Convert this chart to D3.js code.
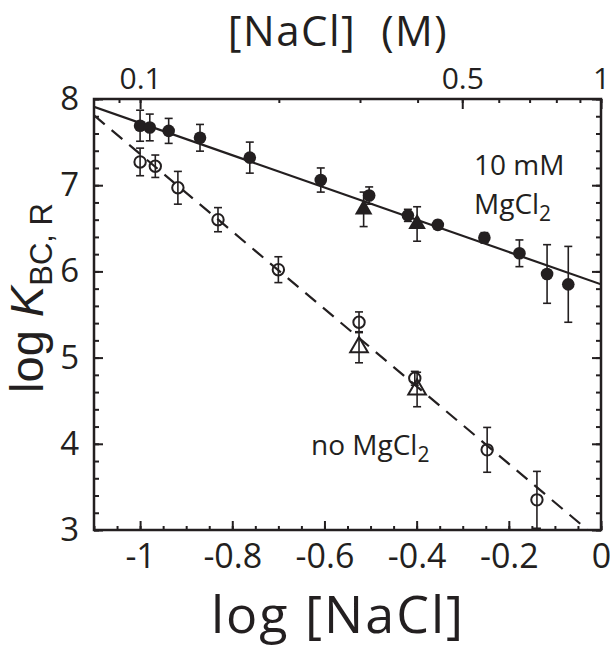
<!DOCTYPE html>
<html><head><meta charset="utf-8">
<script src="https://cdn.jsdelivr.net/npm/d3@7"></script>
<style>
body{margin:0;background:#fff}
text{font-family:"Open Sans",sans-serif;fill:#231f20}
</style>
</head><body>
<svg id="c" width="610" height="651"></svg>
<script>
// 10 mM MgCl2 (filled symbols)
const mgX   = [-1.0, -0.979, -0.938, -0.870, -0.762, -0.608, -0.503, -0.419, -0.354, -0.253, -0.177, -0.117, -0.071];
const mgY   = [7.69, 7.67, 7.63, 7.55, 7.32, 7.06, 6.88, 6.65, 6.54, 6.39, 6.21, 5.97, 5.85];
const mgErr = [0.18, 0.155, 0.145, 0.155, 0.18, 0.14, 0.10, 0.07, 0.05, 0.06, 0.155, 0.34, 0.44];
const mgTriX = [-0.515, -0.399];
const mgTriY = [6.72, 6.55];
const mgTriErr = [0.2, 0.2];
// no MgCl2 (open symbols)
const noX   = [-1.0, -0.967, -0.918, -0.831, -0.700, -0.525, -0.404, -0.247, -0.139];
const noY   = [7.27, 7.22, 6.97, 6.60, 6.02, 5.41, 4.76, 3.93, 3.35];
const noErr = [0.16, 0.13, 0.19, 0.14, 0.15, 0.12, 0.08, 0.26, 0.33];
const noTriX = [-0.525, -0.399];
const noTriY = [5.12, 4.63];
const noTriErr = [0.18, 0.2];
// fit lines
const fitX   = [-1.1, 0];
const mgFitY = [7.91, 5.85];
const noFitY = [7.81, 2.87];
// ticks
const xMajor = [-1, -0.8, -0.6, -0.4, -0.2, 0];
const xMinor = d3.range(-1.1, 0.001, 0.05).map(v => +v.toFixed(2));
const yMajor = [3, 4, 5, 6, 7, 8];
const yMinor = d3.range(3, 8.001, 0.2).map(v => +v.toFixed(1));
const topMajor = [0.1, 0.5, 1];
const topMinor = [0.09, 0.1, 0.2, 0.3, 0.4, 0.5, 0.6, 0.7, 0.8, 0.9, 1];
const topLabels = ["0.1", "0.5", "1"];

const ink = "#231f20";
const svg = d3.select("#c");
const L = 94, R = 601, T = 99, B = 530;
const x = d3.scaleLinear().domain([-1.1, 0]).range([L, R]);
const y = d3.scaleLinear().domain([3, 8]).range([B, T]);
const xTop = d3.scaleLog().domain([Math.pow(10, -1.1), 1]).range([L, R]);

svg.append("defs").append("clipPath").attr("id", "clip")
  .append("rect").attr("x", L).attr("y", T).attr("width", R - L).attr("height", B - T);

function styleAxis(g) {
  g.select(".domain").remove();
  g.selectAll("line").attr("stroke", ink).attr("stroke-width", 2);
  g.selectAll("text").attr("fill", ink);
}
// bottom
svg.append("g").attr("transform", `translate(0,${B})`)
  .call(d3.axisBottom(x).tickValues(xMinor).tickSize(-4).tickFormat(""))
  .call(styleAxis);
svg.append("g").attr("transform", `translate(0,${B})`)
  .call(d3.axisBottom(x).tickValues(xMajor).tickSize(-9).tickPadding(14)
    .tickFormat(d => String(+d.toFixed(1))))
  .call(styleAxis)
  .selectAll("text").style("font-size", "34px");
// left
svg.append("g").attr("transform", `translate(${L},0)`)
  .call(d3.axisLeft(y).tickValues(yMinor).tickSize(-5).tickFormat(""))
  .call(styleAxis);
svg.append("g").attr("transform", `translate(${L},0)`)
  .call(d3.axisLeft(y).tickValues(yMajor).tickSize(-9).tickPadding(15).tickFormat(d3.format("d")))
  .call(styleAxis)
  .selectAll("text").style("font-size", "33px");
// right
svg.append("g").attr("transform", `translate(${R},0)`)
  .call(d3.axisRight(y).tickValues(yMinor).tickSize(-5).tickFormat(""))
  .call(styleAxis);
svg.append("g").attr("transform", `translate(${R},0)`)
  .call(d3.axisRight(y).tickValues(yMajor).tickSize(-9).tickFormat(""))
  .call(styleAxis);
// top
svg.append("g").attr("transform", `translate(0,${T})`)
  .call(d3.axisTop(xTop).tickValues(topMinor).tickSize(-4).tickFormat(""))
  .call(styleAxis);
svg.append("g").attr("transform", `translate(0,${T})`)
  .call(d3.axisTop(xTop).tickValues(topMajor).tickSize(-10).tickPadding(10)
    .tickFormat((d, i) => topLabels[i]))
  .call(styleAxis)
  .selectAll("text").style("font-size", "30px");

// frame
svg.append("rect").attr("x", L).attr("y", T).attr("width", R - L).attr("height", B - T)
  .attr("fill", "none").attr("stroke", ink).attr("stroke-width", 2.5);

const plot = svg.append("g").attr("clip-path", "url(#clip)");
const line = d3.line().x(d => x(d[0])).y(d => y(d[1]));
plot.append("path").attr("d", line(d3.zip(fitX, mgFitY)))
  .attr("fill", "none").attr("stroke", ink).attr("stroke-width", 2.2);
plot.append("path").attr("d", line(d3.zip(fitX, noFitY)))
  .attr("fill", "none").attr("stroke", ink).attr("stroke-width", 2.2)
  .attr("stroke-dasharray", "14,9");

function errBars(xs, ys, es) {
  const g = svg.append("g").attr("stroke", ink).attr("stroke-width", 1.6);
  xs.forEach((xv, i) => {
    const y0 = y(ys[i] - es[i]), y1 = y(ys[i] + es[i]), cx = x(xv);
    g.append("line").attr("x1", cx).attr("x2", cx).attr("y1", Math.min(y0, B)).attr("y2", y1);
    g.append("line").attr("x1", cx - 4).attr("x2", cx + 4).attr("y1", y1).attr("y2", y1);
    if (y0 <= B) g.append("line").attr("x1", cx - 4).attr("x2", cx + 4).attr("y1", y0).attr("y2", y0);
  });
}
errBars(mgX, mgY, mgErr);
errBars(mgTriX, mgTriY, mgTriErr);
errBars(noX, noY, noErr);
errBars(noTriX, noTriY, noTriErr);

const tri = d3.symbol().type(d3.symbolTriangle).size(135);
svg.append("g").selectAll("path").data(d3.zip(mgTriX, mgTriY)).join("path")
  .attr("d", tri).attr("transform", d => `translate(${x(d[0])},${y(d[1])})`).attr("fill", ink);
svg.append("g").selectAll("path").data(d3.zip(noTriX, noTriY)).join("path")
  .attr("d", tri).attr("transform", d => `translate(${x(d[0])},${y(d[1])})`)
  .attr("fill", "none").attr("stroke", ink).attr("stroke-width", 2);
svg.append("g").selectAll("circle").data(d3.zip(mgX, mgY)).join("circle")
  .attr("cx", d => x(d[0])).attr("cy", d => y(d[1])).attr("r", 6.3).attr("fill", ink);
svg.append("g").selectAll("circle").data(d3.zip(noX, noY)).join("circle")
  .attr("cx", d => x(d[0])).attr("cy", d => y(d[1])).attr("r", 5.7)
  .attr("fill", "none").attr("stroke", ink).attr("stroke-width", 2);

// annotations
svg.append("text").attr("x", 474).attr("y", 175).style("font-size", "28px").text("10 mM");
const t2 = svg.append("text").attr("x", 474).attr("y", 214).style("font-size", "28px");
t2.append("tspan").text("MgCl");
t2.append("tspan").attr("dy", 7).style("font-size", "21px").text("2");
const t3 = svg.append("text").attr("x", 311).attr("y", 455).style("font-size", "28px");
t3.append("tspan").text("no MgCl");
t3.append("tspan").attr("dy", 7).style("font-size", "21px").text("2");

// titles
svg.append("text").attr("x", 338).attr("y", 46).attr("text-anchor", "middle")
  .style("font-size", "42px").style("letter-spacing", "1.5px").style("white-space", "pre").text("[NaCl]  (M)");
svg.append("text").attr("x", 338).attr("y", 633).attr("text-anchor", "middle")
  .style("font-size", "52px").style("letter-spacing", "2px").text("log [NaCl]");
const yt = svg.append("text").attr("transform", "translate(43,298) rotate(-90)")
  .attr("text-anchor", "middle").style("font-size", "47px")
  .style("font-family", "'Liberation Sans', Arial, sans-serif");
yt.append("tspan").text("log ");
yt.append("tspan").style("font-style", "italic").text("K");
yt.append("tspan").attr("dy", 9).style("font-size", "31px").text("BC, R");
</script>
</body></html>
